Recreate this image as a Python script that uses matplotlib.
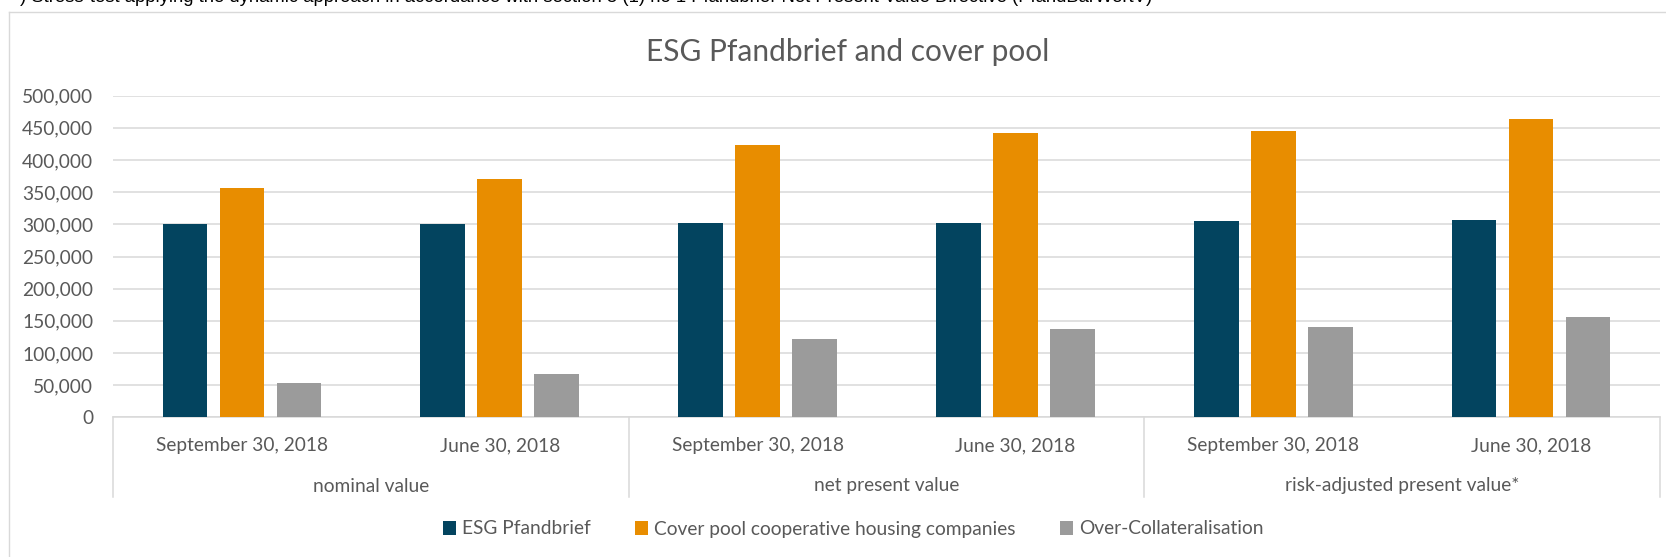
import matplotlib
matplotlib.use("Agg")
import matplotlib.pyplot as plt
from matplotlib.ticker import FuncFormatter
from matplotlib.lines import Line2D
import numpy as np

# ---- data ----
groups = ["nominal value", "net present value", "risk-adjusted present value*"]
dates = ["September 30, 2018", "June 30, 2018",
         "September 30, 2018", "June 30, 2018",
         "September 30, 2018", "June 30, 2018"]
series_names = ["ESG Pfandbrief", "Cover pool cooperative housing companies", "Over-Collateralisation"]
esg_pfandbrief = [300000, 300000, 302400, 302400, 304500, 307000]
cover_pool = [357000, 369900, 424000, 442600, 445100, 463500]
over_collat = [53500, 67000, 121600, 137200, 140300, 156000]
y_ticks = [0, 50000, 100000, 150000, 200000, 250000, 300000, 350000, 400000, 450000, 500000]

title = "ESG Pfandbrief and cover pool"
top_note = (") Stress-test applying the dynamic approach in accordance with section 5 (1) "
            "no 1 Pfandbrief-Net Present Value Directive (PfandBarWertV)")

# ---- style ----
colors = ["#03445F", "#E88D00", "#9B9B9B"]
text_color = "#595959"
grid_color = "#D9D9D9"
FONT = "Lato"
FS = 13.8
W, H = 1666, 557

fig = plt.figure(figsize=(W / 100, H / 100), dpi=100)

def fy(py):
    return 1 - py / H

ax_left, ax_right, ax_top, ax_bottom = 113, 1660, 95.7, 417.3
ax = fig.add_axes([ax_left / W, fy(ax_bottom), (ax_right - ax_left) / W, (ax_bottom - ax_top) / H])
ax_h_px = ax_bottom - ax_top

x = np.arange(len(dates))
bw = 0.1733
step = 0.221
for i, (vals, c, name) in enumerate(zip([esg_pfandbrief, cover_pool, over_collat], colors, series_names)):
    ax.bar(x + (i - 1) * step, vals, width=bw, color=c, label=name, zorder=3)

ax.set_xlim(-0.5, len(dates) - 0.5)
ax.set_ylim(0, 500000)
ax.set_yticks(y_ticks)
ax.yaxis.set_major_formatter(FuncFormatter(lambda v, p: f"{int(v):,}"))
ax.grid(axis="y", color=grid_color, linewidth=1.1, zorder=0)
for s in ["top", "right", "left"]:
    ax.spines[s].set_visible(False)
ax.spines["bottom"].set_color(grid_color)
ax.spines["bottom"].set_linewidth(1.1)
ax.tick_params(axis="y", length=0, pad=14.2, labelsize=FS, labelcolor=text_color)
for lab in ax.get_yticklabels():
    lab.set_fontfamily(FONT)

ax.set_xticks(x)
ax.set_xticklabels(dates)
ax.tick_params(axis="x", length=0, pad=14.5, labelsize=FS, labelcolor=text_color)
for lab in ax.get_xticklabels():
    lab.set_fontfamily(FONT)

# group labels and separators
tr = ax.get_xaxis_transform()
grp_y = -(486 - ax_bottom) / ax_h_px
for g, name in enumerate(groups):
    ax.text(2 * g + 0.5, grp_y, name, transform=tr, ha="center", va="center",
            fontsize=FS, color=text_color, fontfamily=FONT)
sep_bottom = -(497 - ax_bottom) / ax_h_px
for xs in np.arange(-0.5, len(dates), 2.0):
    ax.add_line(Line2D([xs, xs], [0, sep_bottom], transform=tr, color=grid_color,
                       linewidth=1.1, clip_on=False))

# chart frame (left and top)
fig.add_artist(Line2D([9.3 / W, 9.3 / W], [0, fy(11.7)], color=grid_color, linewidth=1.0))
fig.add_artist(Line2D([9.3 / W, 1], [fy(11.7), fy(11.7)], color=grid_color, linewidth=1.0))

# title
fig.text(848 / W, fy(61), title, ha="center", va="baseline", fontsize=21.5,
         color=text_color, fontfamily=FONT)

# top note (cut off at top, as in the source)
fig.text(20 / W, fy(2.5), top_note, ha="left", va="baseline", fontsize=13.35,
         color="black", fontfamily="Liberation Sans")

# legend
handles, labels = ax.get_legend_handles_labels()
leg = fig.legend(handles, labels, loc="center", bbox_to_anchor=(853 / W, fy(529)), ncol=3,
                 frameon=False, handlelength=0.7, handleheight=0.7, handletextpad=0.3,
                 columnspacing=2.3, prop={"family": FONT, "size": FS})
for t in leg.get_texts():
    t.set_color(text_color)

fig.savefig("out.png", dpi=100)
